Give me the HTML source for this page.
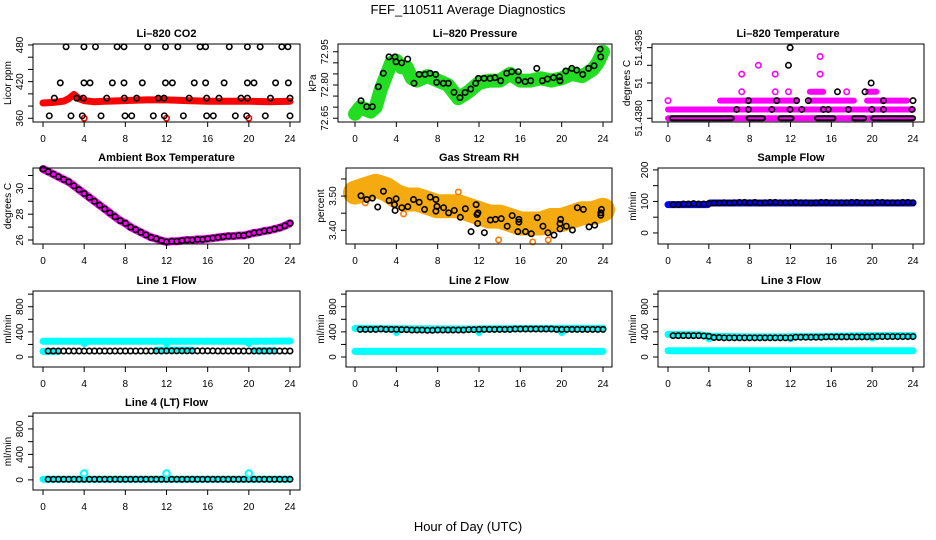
<!DOCTYPE html>
<html><head><meta charset="utf-8"><title>FEF_110511 Average Diagnostics</title>
<style>
html,body{margin:0;padding:0;background:#fff;}
svg{display:block;font-family:"Liberation Sans",Arial,sans-serif;}
</style></head>
<body>
<svg id="chart" width="936" height="540" viewBox="0 0 936 540" xmlns="http://www.w3.org/2000/svg">
<rect x="0" y="0" width="936" height="540" fill="#fff"/>
<text x="468" y="14" font-size="13" text-anchor="middle">FEF_110511  Average Diagnostics</text>
<text x="468" y="531" font-size="13" text-anchor="middle">Hour of Day (UTC)</text>
</svg>
<script>
// ---------- data ----------
const xTicks = [0,4,8,12,16,20,24];
const halfH = [0.5,1,1.5,2,2.5,3,3.5,4,4.5,5,5.5,6,6.5,7,7.5,8,8.5,9,9.5,10,10.5,11,11.5,12,12.5,13,13.5,14,14.5,15,15.5,16,16.5,17,17.5,18,18.5,19,19.5,20,20.5,21,21.5,22,22.5,23,23.5,24];

// CO2
const co2BandH = [0,1,2,2.5,3,3.5,4,5,6,8,10,12,14,16,18,20,22,24];
const co2BandV = [385,386,388,392,399,392,389,387,388,389,390,390,389,388,388,388,387,388];
const co2RedH = [4,12,20];
const co2RedV = [360,360,360];
const co2BlkH = [2.24,3.98,5.1,7.2,7.87,10.17,11.9,13.1,15.26,15.8,18.1,19.86,21.1,23.2,23.8,
  1.68,3.98,4.57,6.74,7.87,9.65,11.9,12.57,14.7,15.8,17.6,19.86,20.5,22.6,23.84,
  1.1,3.27,3.92,6.19,7.9,9.1,11.2,11.76,14.2,15.9,17.1,19.24,19.86,22.1,24,
  0.61,2.72,3.82,5.64,7.97,8.62,10.72,11.79,13.64,15.9,16.55,18.69,19.79,21.6,24];
const co2BlkV = [477,477,477,477,477,477,477,477,477,477,477,477,477,477,477,
  418,418,418,418,418,418,418,418,418,418,418,418,418,418,418,
  393,393,393,393,393,393,393,393,393,393,393,393,393,393,393,
  364,364,364,364,364,364,364,364,364,364,364,364,364,364,364];

// Pressure
const presBandH = [0,0.5,1,1.5,2,2.5,3,3.5,4,4.5,5,5.5,6,7,8,9,10,11,12,13,14,15,16,17,18,19,20,21,22,23,23.5,24];
const presBandV = [72.67,72.70,72.69,72.68,72.70,72.78,72.84,72.90,72.91,72.88,72.88,72.83,72.82,72.84,72.82,72.80,72.74,72.77,72.81,72.82,72.82,72.85,72.82,72.82,72.83,72.82,72.83,72.85,72.84,72.87,72.90,72.95];
const presBlkH = [0.58,1.13,1.68,2.26,2.74,3.29,3.87,3.97,4.52,5.1,5.71,6.2,6.78,7.26,7.81,7.9,8.55,9.03,9.58,10.16,10.65,11.2,11.68,11.94,12.49,13.07,13.55,14.1,14.68,15.17,15.81,15.81,16.46,17.0,17.59,18.13,18.62,19.2,19.78,19.84,20.4,20.98,21.46,22.04,22.6,23.14,23.72,23.78];
const presBlkV = [72.729,72.702,72.702,72.792,72.853,72.927,72.927,72.905,72.900,72.917,72.808,72.848,72.848,72.853,72.848,72.812,72.808,72.808,72.767,72.743,72.766,72.782,72.808,72.83,72.83,72.83,72.833,72.819,72.853,72.86,72.86,72.822,72.815,72.819,72.875,72.819,72.827,72.833,72.837,72.819,72.863,72.875,72.867,72.848,72.875,72.887,72.962,72.927];

// Li-820 temperature (levels of 0.00025 above 51.4380)
const tMagRunLvl = [0,1,2,2,2,3,3];
const tMagRunS = [0,0,5.1,13.9,19.5,13.9,19.6];
const tMagRunE = [24,24,12.6,18.2,23.4,15.2,20.4];
const tMagPtH = [0,7.22,10.5,11.8,17.5,7.22,10.5,14.9,8.85,14.9];
const tMagPtLvl = [2,3,3,3,3,5,5,5,6,7];
const tBlkRunS = [0.36,7.9,11.0,14.6,18.2,20.1];
const tBlkRunE = [6.24,9.3,12.1,16.2,19.2,24];
const tBlkPtH = [6.73,7.88,10.17,11.96,13.1,15.22,15.7,17.68,19.97,21.1,23.9,7.88,10.65,12.6,13.75,21.1,24,16.6,19.3,19.9,11.8,11.96];
const tBlkPtLvl = [1,1,1,1,1,1,1,1,1,1,1,2,2,2,2,2,2,3,3,4,6,8];

// Ambient
const ambH = [0,0.5,1,1.5,2,2.5,3,3.5,4,4.5,5,5.5,6,6.5,7,7.5,8,8.5,9,9.5,10,10.5,11,11.5,12,12.5,13,13.5,14,14.5,15,15.5,16,16.5,17,17.5,18,18.5,19,19.5,20,20.5,21,21.5,22,22.5,23,23.5,24];
const ambV = [31.5,31.3,31.1,30.9,30.7,30.5,30.2,29.9,29.6,29.3,29.0,28.7,28.4,28.1,27.8,27.5,27.3,27.0,26.8,26.6,26.4,26.2,26.1,25.95,25.85,25.9,25.9,25.95,26.0,26.0,26.05,26.05,26.1,26.15,26.2,26.25,26.3,26.3,26.35,26.35,26.45,26.55,26.6,26.7,26.75,26.85,26.95,27.1,27.3];

// Gas stream RH
const rhBandH = [0,1,2,3,4,5,6,7,8,9,10,11,12,13,14,15,16,17,18,19,20,21,22,23,24];
const rhBandV = [3.51,3.52,3.53,3.52,3.50,3.49,3.49,3.48,3.47,3.47,3.47,3.46,3.45,3.44,3.44,3.43,3.42,3.42,3.42,3.43,3.43,3.44,3.45,3.45,3.46];
const rhOrgH = [10.0,13.9,17.2,1.0,4.7,18.7];
const rhOrgV = [3.512,3.372,3.366,3.480,3.448,3.372];
const rhBlkH = [0.58,1.13,1.68,2.2,2.75,3.3,3.82,3.88,3.98,4.53,5.11,5.66,6.21,6.73,7.28,7.83,7.83,7.93,8.57,9.06,9.61,10.19,10.68,11.23,11.72,11.81,11.87,11.9,12.52,13.1,13.59,14.15,14.73,15.21,15.86,15.86,15.76,16.5,17.06,17.64,18.19,18.67,19.26,19.84,19.84,19.9,20.45,21.04,21.52,22.1,22.65,23.2,23.79,23.85,23.79];
const rhBlkV = [3.501,3.490,3.494,3.468,3.514,3.487,3.475,3.458,3.492,3.466,3.469,3.490,3.482,3.461,3.497,3.490,3.456,3.470,3.466,3.451,3.458,3.438,3.463,3.396,3.475,3.446,3.420,3.451,3.393,3.430,3.432,3.434,3.412,3.443,3.432,3.424,3.396,3.396,3.390,3.437,3.412,3.393,3.386,3.420,3.404,3.432,3.412,3.401,3.466,3.461,3.410,3.415,3.451,3.461,3.444];

// Sample flow
const sfBandH = [0,3.9,4.1,8,12,16,20,24];
const sfBandV = [90,90,95,95,95,95,95,95];
const sfBlkV = [90,90,92,92,93,92,92,93,95,95,96,95,96,97,97,96,97,95,96,97,97,96,96,96,97,96,96,95,96,97,97,96,96,96,96,97,97,96,96,96,97,97,96,96,96,97,97,96];

// Line 1
const l1HiH = [0,3.9,4,4.1,11.9,12,12.1,19.9,20,20.1,24];
const l1HiV = [250,250,215,250,250,215,250,250,215,250,255];
const l1LoS = [0,11,20.5];
const l1LoE = [1.5,14.5,22.5];
const l1LoV = [90,110,100];
const l1BlkV = [95,95,95,95,95,95,95,95,95,95,95,95,95,95,95,95,95,95,95,95,95,95,95,98,98,98,98,98,98,98,98,98,98,95,95,95,95,95,95,95,95,95,95,95,95,95,95,95];
// Line 2
const l2HiH = [0,3.9,4,4.1,11.9,12,12.1,19.9,20,20.1,24];
const l2HiV = [455,450,390,450,445,390,450,455,390,455,455];
const l2LoS = [0];
const l2LoE = [24];
const l2LoV = [90];
const l2BlkV = [440,440,440,440,445,440,440,440,435,435,430,430,430,425,425,430,430,430,430,430,430,435,435,440,440,440,440,440,440,440,445,445,445,445,445,445,445,445,440,440,440,440,440,440,440,440,440,440];
// Line 3
const l3HiH = [0,3,3.9,4,4.1,8,11.9,12,12.1,16,19.9,20,20.1,24];
const l3HiV = [360,355,340,290,330,320,320,290,325,330,340,300,340,340];
const l3LoS = [0];
const l3LoE = [24];
const l3LoV = [100];
const l3BlkV = [340,340,340,340,340,340,335,330,310,310,305,305,305,305,305,305,305,305,305,305,305,305,305,305,315,315,315,315,315,315,320,320,320,320,320,320,320,320,320,325,325,325,325,325,325,325,325,325];
// Line 4
const l4HiH = [0,24];
const l4HiV = [10,10];
const l4CyPtH = [4,12,20];
const l4CyPtV = [100,100,100];
const l4BlkV = [10,10,10,10,10,10,10,10,10,10,10,10,10,10,10,10,10,10,10,10,10,10,10,10,10,10,10,10,10,10,10,10,10,10,10,10,10,10,10,10,10,10,10,10,10,10,10,10];

const flowTicks = [0,200,400,600,800,1000];
const flowLabels = ['0','','400','','800',''];

// ---------- drawing ----------
const NS = 'http://www.w3.org/2000/svg';
const svg = document.getElementById('chart');
function mk(parent, tag, attrs, name){
  const el = document.createElementNS(NS, tag);
  for (const k in attrs) el.setAttribute(k, attrs[k]);
  
  
  parent.appendChild(el);
  return el;
}
function panel(cfg){
  const g = mk(svg, 'g', {}, cfg.id);
  const sx = h => cfg.x0 + (cfg.x24 - cfg.x0) * h / 24;
  const sy = v => cfg.b - (v - cfg.ymin) / (cfg.ymax - cfg.ymin) * (cfg.b - cfg.t);
  const t = mk(g, 'text', {x:(cfg.l+cfg.r)/2, y:cfg.t-7, 'font-size':11, 'font-weight':'bold', 'text-anchor':'middle'}, 'panel-title');
  t.textContent = cfg.title;
  const yl = mk(g, 'text', {x:0, y:0, 'font-size':10, 'text-anchor':'middle', transform:'translate('+(cfg.l-22)+','+((cfg.t+cfg.b)/2)+') rotate(-90)'}, 'y-axis-title');
  yl.textContent = cfg.ylab;
  const plot = mk(g, 'g', {}, 'plot-area');
  const axes = mk(g, 'g', {}, 'axes');
  mk(axes, 'rect', {x:cfg.l, y:cfg.t, width:cfg.r-cfg.l, height:cfg.b-cfg.t, fill:'none', stroke:'#000', 'stroke-width':1}, 'plot-box');
  xTicks.forEach(h => {
    const x = sx(h);
    mk(axes, 'line', {x1:x, x2:x, y1:cfg.b, y2:cfg.b+5, stroke:'#000'}, 'x-tick');
    const tl = mk(axes, 'text', {x:x, y:cfg.b+20, 'font-size':10, 'text-anchor':'middle'}, 'x-tick-label');
    tl.textContent = String(h);
  });
  cfg.yticks.forEach((v, i) => {
    const y = sy(v);
    mk(axes, 'line', {x1:cfg.l-5, x2:cfg.l, y1:y, y2:y, stroke:'#000'}, 'y-tick');
    if (cfg.ylabels[i]) {
      const tl = mk(axes, 'text', {x:0, y:0, 'font-size':10, 'text-anchor':'middle', transform:'translate('+(cfg.l-10)+','+y+') rotate(-90)'}, 'y-tick-label');
      tl.textContent = cfg.ylabels[i];
    }
  });
  return {g:plot, sx, sy};
}
function band(p, hs, vs, color, w, name){
  let d = '';
  for (let i = 0; i < hs.length; i++) d += (i ? 'L' : 'M') + p.sx(hs[i]).toFixed(1) + ',' + p.sy(vs[i]).toFixed(1);
  mk(p.g, 'path', {d:d, fill:'none', stroke:color, 'stroke-width':w, 'stroke-linejoin':'round', 'stroke-linecap':'round'}, name);
}
function runs(p, ss, es, vs, color, w, name){
  for (let i = 0; i < ss.length; i++) {
    mk(p.g, 'line', {x1:p.sx(ss[i]), x2:p.sx(es[i]), y1:p.sy(vs[i]), y2:p.sy(vs[i]), stroke:color, 'stroke-width':w, 'stroke-linecap':'round'}, name);
  }
}
function pts(p, hs, vs, color, name, r, sw){
  const n = Math.min(hs.length, vs.length);
  for (let i = 0; i < n; i++) {
    mk(p.g, 'circle', {cx:p.sx(hs[i]), cy:p.sy(vs[i]), r:r||2.7, fill:'none', stroke:color, 'stroke-width':sw||1.6}, name);
  }
}

const C1 = {x0:43, x24:290, l:33, r:300};
const C2 = {x0:355, x24:603, l:346, r:612};
const C3 = {x0:668, x24:913, l:658, r:924};
const R1 = {t:44, b:122}, R2 = {t:168, b:244}, R3 = {t:291, b:367}, R4 = {t:413, b:490};

// CO2
let p = panel(Object.assign({}, C1, R1, {id:'panel-co2', title:'Li–820 CO2', ylab:'Licor ppm', ymin:353.9, ymax:481.6,
  yticks:[360,380,400,420,440,460,480], ylabels:['360','','','420','','','480']}));
band(p, co2BandH, co2BandV, '#ff0000', 7, 'co2-average-band');
pts(p, co2RedH, co2RedV, '#ff0000', 'co2-red-point');
pts(p, co2BlkH, co2BlkV, '#000', 'co2-hourly-point');

// Pressure
p = panel(Object.assign({}, C2, R1, {l:338, id:'panel-pressure', title:'Li–820 Pressure', ylab:'kPa', ymin:72.633, ymax:72.985,
  yticks:[72.65,72.70,72.75,72.80,72.85,72.90,72.95], ylabels:['72.65','','','72.80','','','72.95']}));
band(p, presBandH, presBandV, '#22dd22', 14, 'pressure-average-band');
pts(p, presBlkH, presBlkV, '#000', 'pressure-hourly-point');

// Li-820 temperature
p = panel(Object.assign({}, C3, R1, {l:652, id:'panel-li820-temp', title:'Li–820 Temperature', ylab:'degrees C', ymin:51.437895, ymax:51.440103,
  yticks:[51.4380,51.4385,51.4390,51.4395,51.4400], ylabels:['51.4380','','51','','51.4395']}));
const lv = l => 51.4380 + l * 0.00025;
runs(p, tMagRunS, tMagRunE, tMagRunLvl.map(lv), '#ff00ff', 6, 'temp-magenta-run');
pts(p, tMagPtH, tMagPtLvl.map(lv), '#ff00ff', 'temp-magenta-point');
const zeroLv = tBlkRunS.map(() => lv(0));
runs(p, tBlkRunS, tBlkRunE, zeroLv, '#000', 6, 'temp-black-run');
runs(p, tBlkRunS, tBlkRunE, zeroLv, '#ff00ff', 2, 'temp-black-run-inner');
pts(p, tBlkPtH, tBlkPtLvl.map(lv), '#000', 'temp-black-point');

// Ambient
p = panel(Object.assign({}, C1, R2, {id:'panel-ambient', title:'Ambient Box Temperature', ylab:'degrees C', ymin:25.69, ymax:31.58,
  yticks:[26,27,28,29,30,31], ylabels:['26','','28','','30','']}));
band(p, ambH, ambV, '#ff00ff', 8, 'ambient-band');
pts(p, ambH, ambV, '#000', 'ambient-point');

// RH
p = panel(Object.assign({}, C2, R2, {id:'panel-rh', title:'Gas Stream RH', ylab:'percent', ymin:3.360, ymax:3.582,
  yticks:[3.40,3.45,3.50,3.55], ylabels:['3.40','','3.50','']}));
band(p, rhBandH, rhBandV, '#f5ab10', 24, 'rh-band');
pts(p, rhOrgH, rhOrgV, '#ff7700', 'rh-orange-point');
pts(p, rhBlkH, rhBlkV, '#000', 'rh-point');

// Sample flow
p = panel(Object.assign({}, C3, R2, {id:'panel-sample-flow', title:'Sample Flow', ylab:'ml/min', ymin:-35, ymax:206,
  yticks:[0,50,100,150,200], ylabels:['0','','100','','200']}));
band(p, sfBandH, sfBandV, '#0000ff', 7, 'sample-flow-band');
pts(p, halfH, sfBlkV, '#000', 'sample-flow-point');

// Flows
function flowPanel(col, row, id, title, hiH, hiV, loS, loE, loV, blk){
  const q = panel(Object.assign({}, col, row, {id:id, title:title, ylab:'ml/min', ymin:-159, ymax:1050, yticks:flowTicks, ylabels:flowLabels}));
  band(q, hiH, hiV, '#00ffff', 7, 'cyan-flow-band');
  runs(q, loS, loE, loV, '#00ffff', 7, 'cyan-low-band');
  pts(q, halfH, blk, '#000', 'flow-point');
  return q;
}
flowPanel(C1, R3, 'panel-line1', 'Line 1 Flow', l1HiH, l1HiV, l1LoS, l1LoE, l1LoV, l1BlkV);
flowPanel(C2, R3, 'panel-line2', 'Line 2 Flow', l2HiH, l2HiV, l2LoS, l2LoE, l2LoV, l2BlkV);
flowPanel(C3, R3, 'panel-line3', 'Line 3 Flow', l3HiH, l3HiV, l3LoS, l3LoE, l3LoV, l3BlkV);
const p4 = flowPanel(C1, R4, 'panel-line4', 'Line 4 (LT) Flow', l4HiH, l4HiV, [], [], [], l4BlkV);
pts(p4, l4CyPtH, l4CyPtV, '#00ffff', 'cyan-flow-point', 3.2, 2);
</script>
</body></html>
